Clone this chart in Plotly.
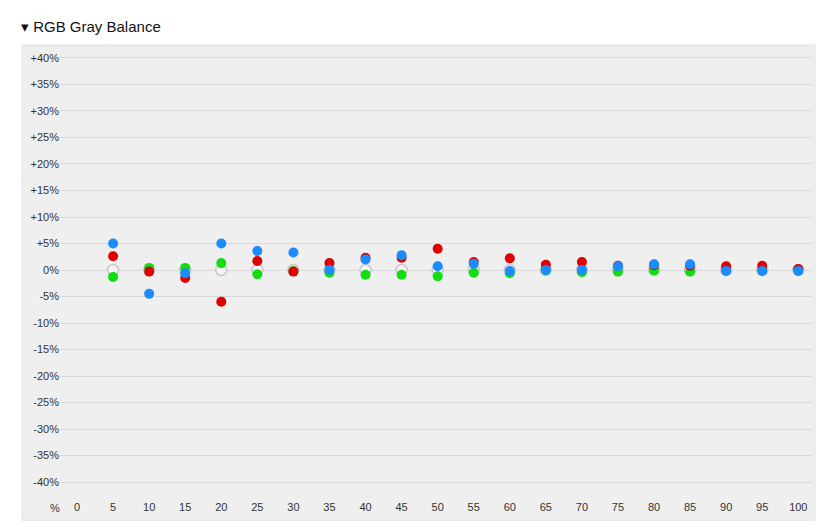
import plotly.graph_objects as go

levels = [5, 10, 15, 20, 25, 30, 35, 40, 45, 50, 55, 60, 65, 70, 75, 80, 85, 90, 95, 100]
red = [2.6, -0.3, -1.5, -6.0, 1.7, -0.3, 1.3, 2.3, 2.3, 4.0, 1.5, 2.2, 1.0, 1.5, 0.8, 0.9, 0.8, 0.7, 0.8, 0.2]
green = [-1.3, 0.4, 0.4, 1.3, -0.8, -0.2, -0.5, -0.9, -0.9, -1.2, -0.5, -0.6, -0.1, -0.4, -0.3, -0.1, -0.3, -0.1, 0.0, 0.1]
blue = [5.0, -4.5, -0.6, 5.0, 3.6, 3.3, 0.0, 2.0, 2.8, 0.7, 1.2, -0.2, 0.0, 0.0, 0.7, 1.1, 1.1, -0.2, -0.2, -0.2]
reference = [0] * len(levels)

y_ticks = list(range(-40, 45, 5))
y_labels = [("+%d%%" % v if v > 0 else "%d%%" % v) for v in y_ticks]
x_ticks = [0] + levels

fig = go.Figure()
fig.add_trace(go.Scatter(x=levels, y=reference, mode="markers",
                         marker=dict(size=11, color="#f4f4f4", line=dict(color="#c8c8c8", width=1.5))))
for vals, col in [(green, "#11dd11"), (red, "#e00000"), (blue, "#1a8cff")]:
    fig.add_trace(go.Scatter(x=levels, y=vals, mode="markers", marker=dict(size=10, color=col)))

# page body has an 8px margin, so the figure is drawn 8px smaller
fig.add_shape(type="rect", xref="paper", yref="paper", x0=-0.0505, x1=1.004, y0=-0.056, y1=1.0,
              fillcolor="#efefef", line=dict(color="#e2e2e2", width=1), layer="below")

fig.add_annotation(text="▾ RGB Gray Balance", xref="paper", yref="paper", x=-0.054, y=1.04,
                   xanchor="left", yanchor="middle", showarrow=False,
                   font=dict(size=15, color="#111", family="Liberation Sans"))
fig.add_annotation(text="%", xref="paper", yref="paper", x=-0.016, y=-0.012, yanchor="top", showarrow=False,
                   font=dict(size=11, color="#333", family="Liberation Sans"))

fig.update_layout(
    width=821, height=524, showlegend=False,
    margin=dict(l=52, r=17, t=37, b=37),
    paper_bgcolor="white", plot_bgcolor="rgba(0,0,0,0)",
    font=dict(family="Liberation Sans", size=11, color="#333"),
    xaxis=dict(range=[-2.36, 101.9], tickvals=x_ticks, showgrid=False, zeroline=False,
               ticks="", ticklabelstandoff=4),
    yaxis=dict(range=[-42.45, 42.45], tickvals=y_ticks, ticktext=y_labels, showgrid=True,
               gridcolor="#d8d8d8", gridwidth=1, zeroline=False, ticks=""),
)

fig.write_html("out.html")
